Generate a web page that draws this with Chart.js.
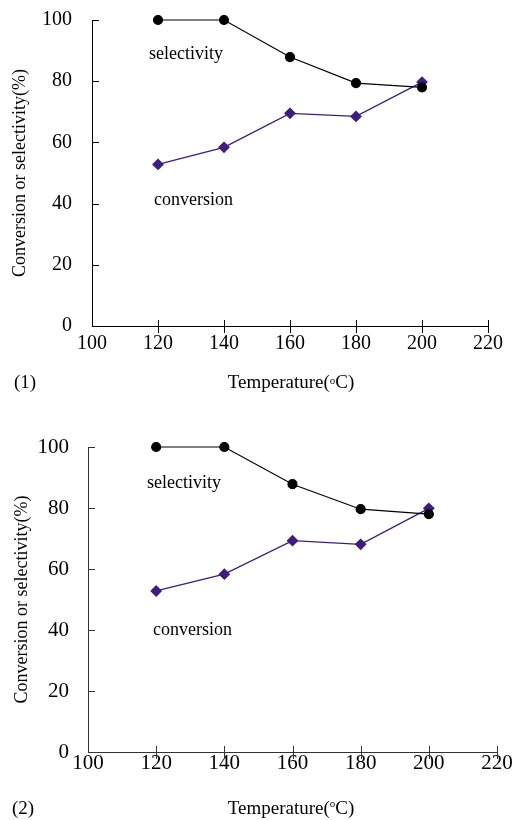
<!DOCTYPE html>
<html>
<head>
<meta charset="utf-8">
<script src="https://cdn.jsdelivr.net/npm/chart.js@4"></script>
<style>
  body { margin: 0; background: #fff; width: 515px; height: 820px; position: relative; overflow: hidden; }
  .box { position: absolute; left: 0; width: 515px; }
</style>
</head>
<body>
<div class="box" style="top:0;height:400px"><canvas id="chart1"></canvas></div>
<div class="box" style="top:410px;height:410px"><canvas id="chart2"></canvas></div>
<script>
// temperatures (degC) and values
const temps = [120, 140, 160, 180, 200];
const selectivity1 = [100, 100, 87.9, 79.4, 78.0];
const conversion1 = [52.8, 58.4, 69.5, 68.5, 79.7];
const selectivity2 = [100, 100, 87.8, 79.6, 78.0];
const conversion2 = [52.8, 58.3, 69.3, 68.1, 79.9];

const xMin = 100, xMax = 220, xStep = 20;
const yMin = 0, yMax = 100, yStep = 20;

const serif = "'Liberation Serif', 'Times New Roman', serif";
const purple = '#3f1d7d';

// hand-drawn tick marks: y inward only, x crossing the axis
const tickMarks = {
  id: 'tickMarks',
  afterDraw(chart) {
    const ctx = chart.ctx;
    const xs = chart.scales.x, ys = chart.scales.y;
    const axisX = xs.getPixelForValue(xMin);
    const axisY = ys.getPixelForValue(yMin);
    ctx.save();
    ctx.strokeStyle = chart.options.axisColor;
    ctx.lineWidth = 1;
    ctx.beginPath();
    ys.ticks.forEach(t => {
      const y = Math.round(ys.getPixelForValue(t.value)) + 0.5;
      ctx.moveTo(axisX, y);
      ctx.lineTo(axisX + 7, y);
    });
    xs.ticks.forEach(t => {
      if (t.value === xMin) return;
      const x = Math.round(xs.getPixelForValue(t.value)) + 0.5;
      ctx.moveTo(x, axisY - 6);
      ctx.lineTo(x, axisY + 7);
    });
    ctx.stroke();
    ctx.restore();
  }
};

// series names, panel caption and x title with the small "o"
const notes = {
  id: 'notes',
  afterDraw(chart) {
    const o = chart.options.notes;
    const ctx = chart.ctx;
    const xs = chart.scales.x, ys = chart.scales.y;
    ctx.save();
    ctx.fillStyle = '#000';
    ctx.textBaseline = 'alphabetic';
    ctx.textAlign = 'left';
    ctx.font = '18px ' + serif;
    o.labels.forEach(l => {
      ctx.fillText(l.text, xs.getPixelForValue(l.x), ys.getPixelForValue(l.y));
    });

    ctx.font = '19px ' + serif;
    ctx.fillText(o.caption, o.captionX, o.titleY);

    const a = 'Temperature(', b = 'C)';
    const wa = ctx.measureText(a).width, wb = ctx.measureText(b).width;
    ctx.font = o.degSize + 'px ' + serif;
    const wo = ctx.measureText('o').width;
    let x = o.titleX - (wa + wo + wb) / 2;
    ctx.font = '19px ' + serif;
    ctx.fillText(a, x, o.titleY);
    x += wa;
    ctx.font = o.degSize + 'px ' + serif;
    ctx.fillText('o', x, o.titleY - o.degRaise);
    x += wo;
    ctx.font = '19px ' + serif;
    ctx.fillText(b, x, o.titleY);
    ctx.restore();
  }
};

function makeChart(id, sel, conv, cfg) {
  return new Chart(document.getElementById(id), {
    type: 'line',
    data: {
      datasets: [
        {
          label: 'selectivity',
          data: temps.map((t, i) => ({ x: t, y: sel[i] })),
          borderColor: '#000',
          backgroundColor: '#000',
          borderWidth: 1.2,
          pointStyle: 'circle',
          pointRadius: 4.5,
          tension: 0,
          clip: false
        },
        {
          label: 'conversion',
          data: temps.map((t, i) => ({ x: t, y: conv[i] })),
          borderColor: purple,
          backgroundColor: purple,
          borderWidth: 1.3,
          pointStyle: 'rectRot',
          pointRadius: 5,
          tension: 0,
          clip: false
        }
      ]
    },
    plugins: [tickMarks, notes],
    options: {
      responsive: true,
      maintainAspectRatio: false,
      animation: false,
      axisColor: cfg.axisColor,
      notes: cfg.notes,
      layout: { padding: { top: cfg.padTop, right: cfg.padRight, left: 0, bottom: 0 } },
      plugins: { legend: { display: false }, tooltip: { enabled: false } },
      scales: {
        x: {
          type: 'linear',
          min: xMin, max: xMax,
          afterFit: s => { s.height = cfg.xHeight; s.paddingLeft = 0; s.paddingRight = 0; },
          grid: { display: false, drawTicks: false },
          border: { display: true, color: cfg.axisColor, width: 1 },
          ticks: {
            stepSize: xStep, autoSkip: false, maxRotation: 0,
            color: '#000', padding: cfg.xPad,
            font: { family: serif, size: cfg.tickSize, lineHeight: 1 }
          }
        },
        y: {
          min: yMin, max: yMax,
          afterFit: s => { s.width = cfg.yWidth; s.paddingTop = 0; s.paddingBottom = 0; },
          grid: { display: false, drawTicks: false },
          border: { display: true, color: cfg.axisColor, width: 1 },
          ticks: {
            stepSize: yStep, color: '#000', padding: cfg.yPad,
            font: { family: serif, size: cfg.tickSize, lineHeight: 1 }
          },
          title: {
            display: true,
            text: 'Conversion or selectivity(%)',
            color: '#000',
            font: { family: serif, size: 18 },
            padding: { top: cfg.yTitlePad, bottom: 0 }
          }
        }
      }
    }
  });
}

makeChart('chart1', selectivity1, conversion1, {
  axisColor: '#000',
  padTop: 20, padRight: 27, xHeight: 74, yWidth: 92,
  xPad: 8, yPad: 20, tickSize: 20, yTitlePad: 9,
  notes: {
    labels: [
      { text: 'selectivity', x: 117.3, y: 87.3 },
      { text: 'conversion', x: 118.8, y: 39.4 }
    ],
    caption: '(1)', captionX: 14,
    titleX: 291, titleY: 388, degSize: 11, degRaise: 4
  }
});

makeChart('chart2', selectivity2, conversion2, {
  axisColor: '#333',
  padTop: 37, padRight: 18, xHeight: 68, yWidth: 88,
  xPad: 1, yPad: 19, tickSize: 21, yTitlePad: 11,
  notes: {
    labels: [
      { text: 'selectivity', x: 117.3, y: 86.4 },
      { text: 'conversion', x: 119.1, y: 38.5 }
    ],
    caption: '(2)', captionX: 12,
    titleX: 291, titleY: 404, degSize: 11, degRaise: 7.5
  }
});
</script>
</body>
</html>
